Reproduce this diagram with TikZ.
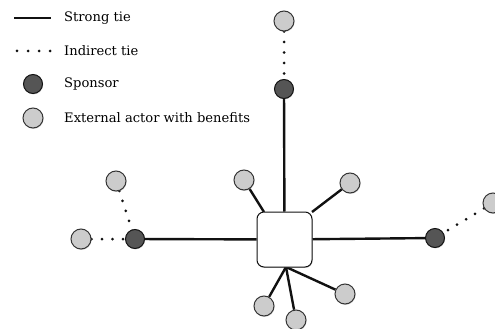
\documentclass[tikz,border=0pt]{standalone}
\usepackage{fontspec}
\setmainfont{DejaVu Serif}
\usetikzlibrary{backgrounds,shadows}
\definecolor{sponsorfill}{HTML}{555555}
\definecolor{actorfill}{HTML}{CCCCCC}
\definecolor{edgecol}{HTML}{111111}
\tikzset{
  sponsor/.style={circle, draw=edgecol, line width=1pt, fill=sponsorfill, minimum size=19pt, inner sep=0pt,
    drop shadow={shadow xshift=0.6pt, shadow yshift=-0.9pt, opacity=0.35}},
  actor/.style={circle, draw=edgecol!85, line width=1pt, fill=actorfill, minimum size=20pt, inner sep=0pt,
    drop shadow={shadow xshift=0.6pt, shadow yshift=-0.9pt, opacity=0.35}},
  hub/.style={rectangle, rounded corners=7pt, draw=edgecol, line width=1pt, fill=white, minimum size=55pt, inner sep=0pt,
    drop shadow={shadow xshift=0.6pt, shadow yshift=-0.9pt, opacity=0.35}},
  strongtie/.style={draw=edgecol, line width=2.4pt},
  indirecttie/.style={draw=edgecol, line width=3pt, line cap=round, dash pattern=on 0pt off 10.5pt},
  legendtext/.style={anchor=west, font=\fontsize{13.1pt}{15pt}\selectfont, inner sep=0pt, text=black},
}
\begin{document}
\begin{tikzpicture}[x=1pt, y=-1pt]
\useasboundingbox (0,0) rectangle (495,329);
\clip (0,0) rectangle (495,329);
% legend
\coordinate (l1a) at (14,18); \coordinate (l1b) at (51,18);
\draw[strongtie] (l1a) -- (l1b);
\node[legendtext] (t1) at (64,18) {Strong tie};
\coordinate (l2a) at (17,51); \coordinate (l2b) at (51,51);
\draw[indirecttie, dash pattern=on 0pt off 11pt] (l2a) -- (l2b);
\node[legendtext] (t2) at (64,51) {Indirect tie};
\node[sponsor] (ls) at (33,84) {};
\node[legendtext] (t3) at (64,84) {Sponsor};
\node[actor] (la) at (33,118) {};
\node[legendtext] (t4) at (64,118) {External actor with benefits};
% network
\node[hub] (hub) at (284.5,239.5) {};
\node[sponsor] (sT) at (284,89) {};
\node[sponsor] (sL) at (135,239) {};
\node[sponsor] (sR) at (435,238) {};
\node[actor] (aT) at (284,21) {};
\node[actor] (aL) at (81,239) {};
\node[actor] (aLU) at (116,181) {};
\node[actor] (aR) at (493,203) {};
\node[actor] (c1) at (244,180) {};
\node[actor] (c2) at (350,183) {};
\node[actor] (c3) at (345,294) {};
\node[actor] (c4) at (264,306) {};
\node[actor] (c5) at (296,320) {};
\coordinate (hb) at (286,267);
\coordinate (hul) at (264,212);
\coordinate (hur) at (312,212);
\begin{scope}[on background layer]
  \draw[strongtie] (sT) -- (hub);
  \draw[strongtie] (sL) -- (hub);
  \draw[strongtie] (sR) -- (hub);
  \draw[strongtie] (c1) -- (hul);
  \draw[strongtie] (c2) -- (hur);
  \draw[strongtie] (c3) -- (hb);
  \draw[strongtie] (c4) -- (hb);
  \draw[strongtie] (c5) -- (hb);
  \draw[indirecttie] (aT.center) -- (sT.center);
  \draw[indirecttie] (aL.center) -- (sL.center);
  \draw[indirecttie] (aLU.center) -- (sL.center);
  \draw[indirecttie] (aR.center) -- (sR.center);
\end{scope}
\end{tikzpicture}
\end{document}
